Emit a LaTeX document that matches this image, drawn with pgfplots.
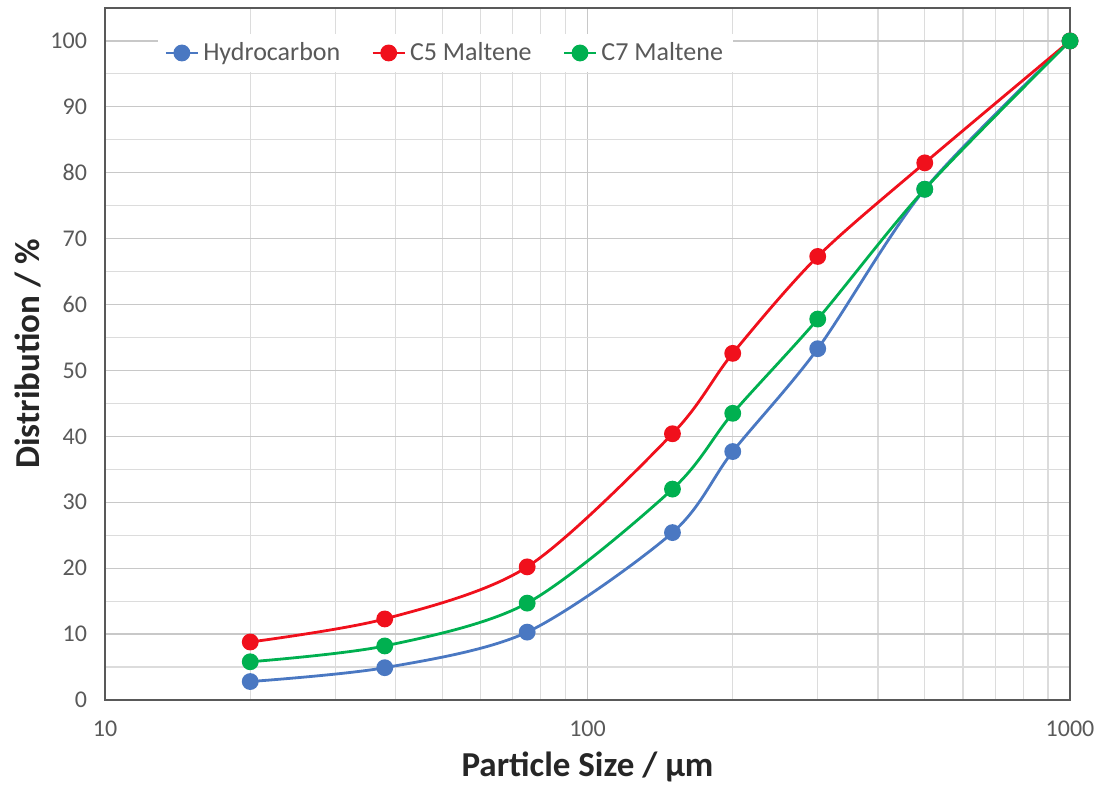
\documentclass[border=0pt]{standalone}
\usepackage{pgfplots}
\pgfplotsset{compat=1.18}
\usepackage{fontspec}
\setmainfont{Carlito}
\definecolor{hc}{HTML}{4A78C2}
\definecolor{cfive}{HTML}{F0101C}
\definecolor{cseven}{HTML}{00B050}
\definecolor{gridmaj}{HTML}{C8C8C8}
\definecolor{gridmin}{HTML}{DCDCDC}
\definecolor{txt}{HTML}{595959}
\begin{document}
\begin{tikzpicture}
\begin{axis}[
  scale only axis, width=482.5pt, height=346pt,
  xmode=log, xmin=10, xmax=1000, ymin=0, ymax=105,
  xtick={10,100,1000}, xticklabels={10,100,1000},
  minor xtick={20,30,40,50,60,70,80,90,200,300,400,500,600,700,800,900},
  ytick={0,10,...,100}, minor ytick={5,15,...,95},
  grid=both,
  major grid style={gridmaj, line width=0.6pt},
  minor grid style={gridmin, line width=0.6pt},
  tick style={draw=none},
  axis line style={black!65, line width=1.1pt},
  /pgf/number format/assume math mode=true,
  ticklabel style={font=\fontsize{12}{14}\selectfont, text=txt},
  yticklabel style={xshift=-5.5pt},
  xticklabel style={yshift=-7pt},
  xlabel={Particle Size / µm},
  ylabel={Distribution / \%},
  label style={font=\fontsize{17.5}{21}\selectfont\bfseries, text=black!85},
  xlabel style={at={(axis description cs:0.5,-0.097)}, anchor=center},
  ylabel style={at={(axis description cs:-0.0798,0.5)}, anchor=center},
  legend columns=3,
  legend style={at={(axis description cs:0.055,0.935)}, anchor=west, draw=none, fill=white,
    font=\fontsize{13}{15}\selectfont, text=txt,
    /tikz/every even column/.append style={column sep=13.5pt},
    /tikz/every odd column/.append style={column sep=0pt}},
  legend image code/.code={\draw[#1, mark repeat=2, mark phase=2] plot coordinates {(0pt,0pt) (8pt,0pt) (16pt,0pt)};},
  every axis plot/.append style={line width=1.4pt, mark=*, mark size=3.5pt, smooth, tension=0.5},
]
\addplot[hc, mark options={fill=hc, draw=hc}] coordinates {
(20,2.8) (38,4.9) (75,10.3) (150,25.4) (200,37.7) (300,53.3) (500,77.5) (1000,100)};
\addlegendentry{Hydrocarbon}
\addplot[cfive, mark options={fill=cfive, draw=cfive}] coordinates {
(20,8.8) (38,12.3) (75,20.2) (150,40.4) (200,52.6) (300,67.3) (500,81.5) (1000,100)};
\addlegendentry{C5 Maltene}
\addplot[cseven, mark options={fill=cseven, draw=cseven}] coordinates {
(20,5.8) (38,8.2) (75,14.7) (150,32.0) (200,43.5) (300,57.8) (500,77.5) (1000,100)};
\addlegendentry{C7 Maltene}
\end{axis}
\pgfresetboundingbox
\path[use as bounding box] ([xshift=-52.5pt,yshift=-43.5pt]current axis.south west) rectangle ([xshift=14pt,yshift=4pt]current axis.north east);
\end{tikzpicture}
\end{document}
